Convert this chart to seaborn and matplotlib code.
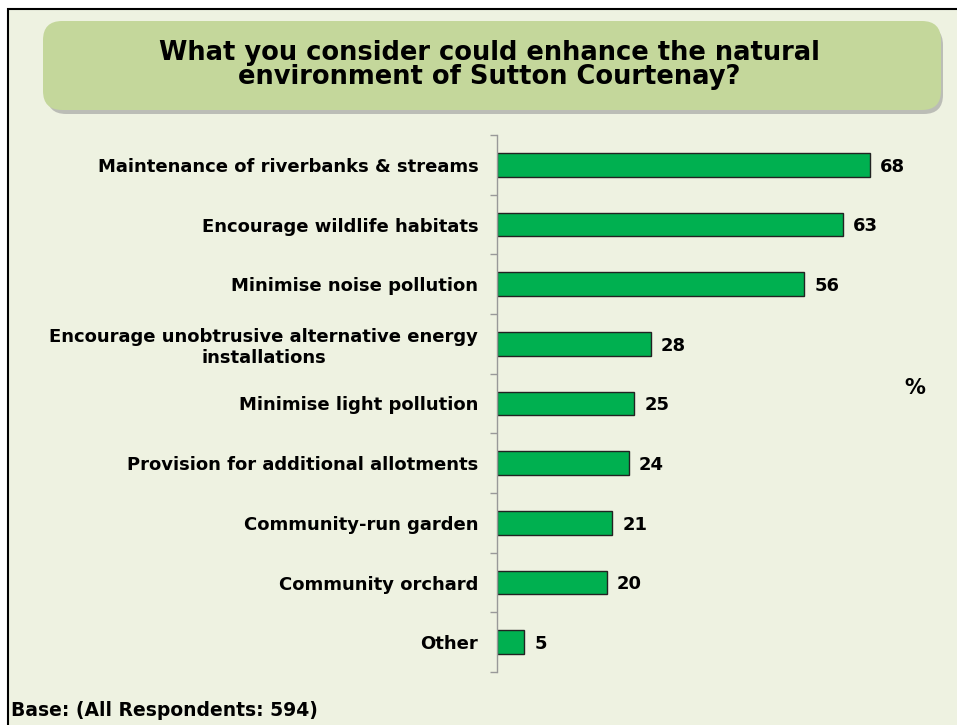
import matplotlib
matplotlib.use("Agg")
import matplotlib.pyplot as plt
import seaborn as sns
import pandas as pd
from matplotlib.patches import FancyBboxPatch, Rectangle

# --- data ---
categories = [
    "Maintenance of riverbanks & streams",
    "Encourage wildlife habitats",
    "Minimise noise pollution",
    "Encourage unobtrusive alternative energy\ninstallations",
    "Minimise light pollution",
    "Provision for additional allotments",
    "Community-run garden",
    "Community orchard",
    "Other",
]
values = [68, 63, 56, 28, 25, 24, 21, 20, 5]

title = "What you consider could enhance the natural\nenvironment of Sutton Courtenay?"
base_note = "Base: (All Respondents: 594)"

BG = "#EEF2E1"
BAR = "#00B050"
BOX = "#C4D79B"

df = pd.DataFrame({"category": categories, "value": values})

sns.set_theme(style="white")
plt.rcParams["font.family"] = ["DejaVu Sans"]
plt.rcParams["text.color"] = "black"
plt.rcParams["ytick.color"] = "black"

W, H = 957, 725
fig = plt.figure(figsize=(W / 100, H / 100), dpi=100)
fig.patch.set_facecolor("white")

# panel background with black frame (extends past right/bottom edges)
fig.patches.append(Rectangle((8 / W, -0.01), 1.0, 1.01 - 9 / H, transform=fig.transFigure,
                             facecolor=BG, edgecolor="black", linewidth=1.5, zorder=-2))

# title box with shadow
fig.patches.append(FancyBboxPatch((47 / W, 1 - 114 / H), 896 / W, 88 / H,
                                  boxstyle="round,pad=0,rounding_size=0.02",
                                  transform=fig.transFigure, facecolor="#9a9a9a",
                                  edgecolor="none", alpha=0.6, zorder=-1,
                                  mutation_aspect=W / H))
fig.patches.append(FancyBboxPatch((43 / W, 1 - 110 / H), 898 / W, 89 / H,
                                  boxstyle="round,pad=0,rounding_size=0.02",
                                  transform=fig.transFigure, facecolor=BOX,
                                  edgecolor="none", zorder=-1,
                                  mutation_aspect=W / H))
fig.text(489 / W, 1 - 65 / H, title, ha="center", va="center", fontsize=18.5,
         fontweight="bold", color="black", linespacing=0.95, zorder=3)

# --- bar chart ---
ax = fig.add_axes([497 / W, 1 - 672 / H, (W - 497) / W, (672 - 135) / H])
ax.set_zorder(5)
ax.set_facecolor("none")
sns.barplot(data=df, x="value", y="category", color=BAR, width=0.4,
            edgecolor="#222222", linewidth=1, saturation=1, ax=ax)
ax.set_xlim(0, (W - 497) / 5.49)
ax.set_ylim(len(categories) - 0.5, -0.5)

for i, v in enumerate(values):
    ax.text(v + 1.8, i + 0.03, str(v), va="center", ha="left", fontsize=13,
            fontweight="bold", color="black")

ax.set_xlabel("")
ax.set_ylabel("")
ax.set_xticks([])
ax.set_yticks([i - 0.5 for i in range(len(categories) + 1)], minor=False)
ax.set_yticklabels([])
ax.set_yticks(range(len(categories)), minor=True)
ax.set_yticklabels(categories, minor=True, fontsize=13, fontweight="bold",
                   ha="right", linespacing=1.2)
for lbl in ax.get_yticklabels(minor=True):
    lbl.set_multialignment("center")
ax.tick_params(axis="y", which="major", left=True, length=5, width=1, color="#999999")
ax.tick_params(axis="y", which="minor", left=False, pad=9.5)
for s in ["top", "right", "bottom"]:
    ax.spines[s].set_visible(False)
ax.spines["left"].set_color("#999999")
ax.spines["left"].set_linewidth(1)

fig.text(915 / W, 1 - 388 / H, "%", ha="center", va="center", fontsize=15,
         fontweight="bold")
fig.text(11 / W, 1 - 711 / H, base_note, ha="left", va="center", fontsize=13.5,
         fontweight="bold")

fig.savefig("out.png", dpi=100, facecolor=fig.get_facecolor())
